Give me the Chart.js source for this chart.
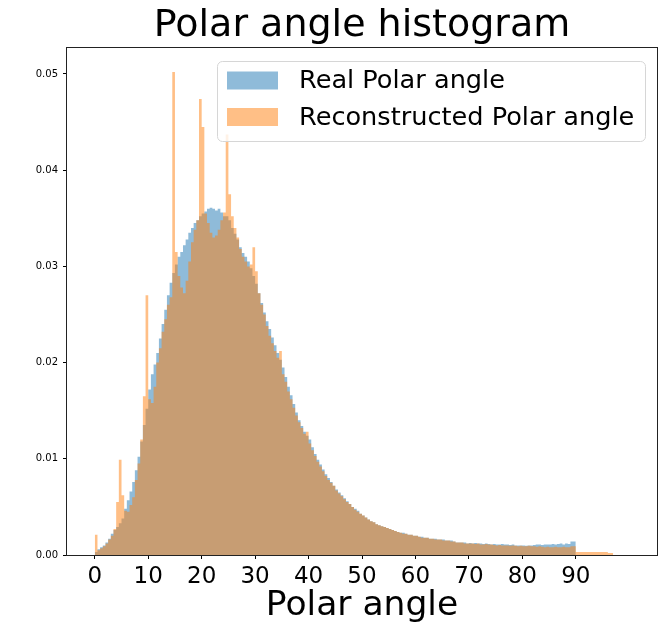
<!DOCTYPE html>
<html>
<head>
<meta charset="utf-8">
<script src="https://cdn.jsdelivr.net/npm/chart.js@4.4.1/dist/chart.umd.min.js"></script>
<style>
  html, body { margin: 0; padding: 0; background: #fff; }
  canvas { display: block; }
</style>
</head>
<body>
<canvas id="chart" width="664" height="628"></canvas>
<script>
// histogram bins start at 0 deg, each binWidth wide
const binWidth = 0.5;

const realPolar = [
  0.0003, 0.0006, 0.0008, 0.0010, 0.0013, 0.0017, 0.0022, 0.0026, 0.0029, 0.0033,
  0.0038, 0.0048, 0.0057, 0.0066, 0.0076, 0.0088, 0.0102, 0.0118, 0.0135, 0.0152,
  0.0172, 0.0188, 0.0198, 0.0210, 0.0225, 0.0240, 0.0255, 0.0270, 0.0283, 0.0293,
  0.0302, 0.0310, 0.0315, 0.0322, 0.0328, 0.0335, 0.0340, 0.0345, 0.0348, 0.0352,
  0.0355, 0.0357, 0.0360, 0.0361, 0.0360, 0.0358, 0.0360, 0.0356, 0.0352, 0.0352,
  0.0348, 0.0340, 0.0334, 0.0328, 0.0320, 0.0314, 0.0310, 0.0305, 0.0298, 0.0290,
  0.0282, 0.0272, 0.0262, 0.0252, 0.0243, 0.0235, 0.0226, 0.0218, 0.0210, 0.0203,
  0.0195, 0.0185, 0.0175, 0.0166, 0.0157, 0.0148, 0.0140, 0.0134, 0.0128, 0.0124,
  0.0120, 0.0112, 0.0105, 0.0099, 0.0094, 0.0089, 0.0084, 0.0080, 0.0076, 0.0072,
  0.0068, 0.0065, 0.0062, 0.0059, 0.0056, 0.0053, 0.0050, 0.0048, 0.0046, 0.0043,
  0.0041, 0.0039, 0.0037, 0.0035, 0.0034, 0.0032, 0.0031, 0.0030, 0.0029, 0.0028,
  0.0027, 0.0026, 0.0025, 0.0024, 0.0023, 0.0023, 0.0022, 0.0021, 0.0021, 0.0020,
  0.0020, 0.0019, 0.0019, 0.0018, 0.0018, 0.0017, 0.0017, 0.0017, 0.0016, 0.0016,
  0.0016, 0.0015, 0.0015, 0.0015, 0.0014, 0.0013, 0.0013, 0.0013, 0.0013, 0.0012,
  0.00125, 0.0012, 0.00125, 0.0012, 0.0012, 0.00115, 0.0012, 0.00115, 0.0011, 0.00115,
  0.0011, 0.0011, 0.00115, 0.0011, 0.0011, 0.00105, 0.0011, 0.0010, 0.0010, 0.0010,
  0.0010, 0.00095, 0.0010, 0.0010, 0.00105, 0.0011, 0.0011, 0.00105, 0.0011, 0.0011,
  0.0011, 0.00115, 0.0011, 0.00115, 0.0012, 0.0011, 0.0012, 0.00115, 0.0014, 0.0014
];

const recoPolar = [
  0.0021, 0.0005, 0.0007, 0.0009, 0.0012, 0.0016, 0.0020, 0.0027, 0.0055, 0.0099,
  0.0062, 0.0046, 0.0045, 0.0052, 0.0060, 0.0078, 0.0095, 0.0120, 0.0165, 0.0270,
  0.0162, 0.0158, 0.0175, 0.0200, 0.0215, 0.0232, 0.0245, 0.0260, 0.0268, 0.0502,
  0.0315, 0.0290, 0.0278, 0.0272, 0.0285, 0.0305, 0.0325, 0.0338, 0.0348, 0.0474,
  0.0445, 0.0355, 0.0345, 0.0335, 0.0330, 0.0332, 0.0338, 0.0348, 0.0356, 0.0437,
  0.0375, 0.0352, 0.0340, 0.0330, 0.0318, 0.0310, 0.0305, 0.0300, 0.0302, 0.0320,
  0.0295, 0.0272, 0.0260, 0.0250, 0.0238, 0.0228, 0.0220, 0.0212, 0.0205, 0.0212,
  0.0188, 0.0180, 0.0170, 0.0162, 0.0153, 0.0145, 0.0138, 0.0132, 0.0126, 0.0128,
  0.0116, 0.0109, 0.0103, 0.0097, 0.0092, 0.0087, 0.0082, 0.0078, 0.0075, 0.0072,
  0.0067, 0.0064, 0.0061, 0.0058, 0.0055, 0.0053, 0.0050, 0.0047, 0.0045, 0.0043,
  0.0041, 0.0039, 0.0037, 0.0035, 0.0034, 0.0032, 0.0031, 0.0030, 0.0029, 0.0028,
  0.0027, 0.0026, 0.0025, 0.0024, 0.0023, 0.0022, 0.0022, 0.0021, 0.0021, 0.0020,
  0.0020, 0.0019, 0.0018, 0.0018, 0.0018, 0.0017, 0.0017, 0.0016, 0.0016, 0.0016,
  0.0015, 0.0015, 0.0015, 0.0014, 0.0014, 0.0013, 0.0013, 0.0013, 0.0012, 0.0012,
  0.0012, 0.0012, 0.00115, 0.0012, 0.0011, 0.0011, 0.00115, 0.0011, 0.0011, 0.00105,
  0.0010, 0.00105, 0.0010, 0.0010, 0.0010, 0.00095, 0.0010, 0.00095, 0.0009, 0.00095,
  0.0009, 0.0009, 0.00095, 0.0009, 0.0009, 0.00085, 0.0009, 0.00085, 0.0008, 0.00085,
  0.0008, 0.0008, 0.00085, 0.0008, 0.0008, 0.00085, 0.0008, 0.0008, 0.0009, 0.0009,
  0.0003, 0.0003, 0.0003, 0.0003, 0.0003, 0.0003, 0.0003, 0.0003, 0.0003, 0.0003,
  0.0003, 0.0003, 0.0002, 0.0002
];

const xTicks = [0, 10, 20, 30, 40, 50, 60, 70, 80, 90];
const yTicks = [0, 0.01, 0.02, 0.03, 0.04, 0.05];

const FONT = '"DejaVu Sans", "Liberation Sans", sans-serif';

// left bin edge -> bin value, plus a closing point at the last right edge
function toSteps(values) {
  const pts = values.map((v, i) => ({ x: i * binWidth, y: v }));
  pts.push({ x: values.length * binWidth, y: 0 });
  return pts;
}

// matplotlib style frame round the plot area
const frame = {
  id: "frame",
  afterDatasetsDraw(chart) {
    const { ctx, chartArea: a } = chart;
    ctx.save();
    ctx.strokeStyle = "#222";
    ctx.lineWidth = 1;
    ctx.strokeRect(Math.round(a.left) - 0.5, Math.round(a.top) - 0.5,
      Math.round(a.right - a.left) + 1, Math.round(a.bottom - a.top) + 1);
    ctx.restore();
  },
};

// legend box in the upper right corner of the plot
const boxLegend = {
  id: "boxLegend",
  afterDraw(chart) {
    const { ctx, chartArea: a } = chart;
    const w = 428, h = 80;
    const left = a.right - 12 - w, top = a.top + 13;
    ctx.save();
    ctx.beginPath();
    ctx.roundRect(left + 0.5, top + 0.5, w, h, 5);
    ctx.fillStyle = "rgba(255,255,255,0.8)";
    ctx.fill();
    ctx.strokeStyle = "#d6d6d6";
    ctx.lineWidth = 1;
    ctx.stroke();
    ctx.font = "25.6px " + FONT;
    ctx.textBaseline = "middle";
    ctx.textAlign = "left";
    chart.data.datasets.forEach((ds, i) => {
      const cy = top + 19.5 + i * 36.5;
      ctx.fillStyle = ds.backgroundColor;
      ctx.fillRect(left + 10, cy - 9, 51, 18);
      ctx.fillStyle = "#000";
      ctx.fillText(ds.label, left + 82, cy + 1);
    });
    ctx.restore();
  },
};

new Chart(document.getElementById("chart"), {
  type: "line",
  data: {
    datasets: [
      {
        label: "Real Polar angle",
        data: toSteps(realPolar),
        backgroundColor: "rgba(31,119,180,0.5)",
        borderColor: "transparent",
        borderWidth: 0,
        pointRadius: 0,
        stepped: "before",
        fill: "origin",
        order: 1,
      },
      {
        label: "Reconstructed Polar angle",
        data: toSteps(recoPolar),
        backgroundColor: "rgba(255,127,14,0.5)",
        borderColor: "transparent",
        borderWidth: 0,
        pointRadius: 0,
        stepped: "before",
        fill: "origin",
        order: 0,
      },
    ],
  },
  options: {
    responsive: false,
    animation: false,
    layout: { padding: { left: 0, right: 7, top: 0, bottom: 0 } },
    scales: {
      x: {
        type: "linear",
        min: -5.2,
        max: 105.2,
        afterBuildTicks: (scale) => {
          scale.ticks = xTicks.map((v) => ({ value: v }));
        },
        afterFit: (scale) => {
          scale.height = 73;
        },
        ticks: {
          autoSkip: false,
          maxRotation: 0,
          padding: 4,
          color: "#000",
          font: { family: FONT, size: 23 },
        },
        grid: {
          drawOnChartArea: false,
          drawTicks: true,
          tickLength: 4,
          tickColor: "#000",
          tickWidth: 1,
        },
        border: { display: false },
        title: {
          display: true,
          text: "Polar angle",
          color: "#000",
          font: { family: FONT, size: 34.5, lineHeight: 1 },
          padding: { top: 0, bottom: 5 },
        },
      },
      y: {
        min: 0,
        max: 0.0527,
        afterBuildTicks: (scale) => {
          scale.ticks = yTicks.map((v) => ({ value: v }));
        },
        afterFit: (scale) => {
          scale.width = 67;
        },
        ticks: {
          padding: 5,
          color: "#000",
          font: { family: FONT, size: 10 },
          callback: (v) => v.toFixed(2),
        },
        grid: {
          drawOnChartArea: false,
          drawTicks: true,
          tickLength: 4,
          tickColor: "#000",
          tickWidth: 1,
        },
        border: { display: false },
      },
    },
    plugins: {
      legend: { display: false },
      tooltip: { enabled: false },
      title: {
        display: true,
        text: "Polar angle histogram",
        fullSize: false,
        color: "#000",
        font: { family: FONT, size: 38, weight: "normal", lineHeight: 1 },
        padding: { top: 7, bottom: 3 },
      },
    },
  },
  plugins: [frame, boxLegend],
});
</script>
</body>
</html>
